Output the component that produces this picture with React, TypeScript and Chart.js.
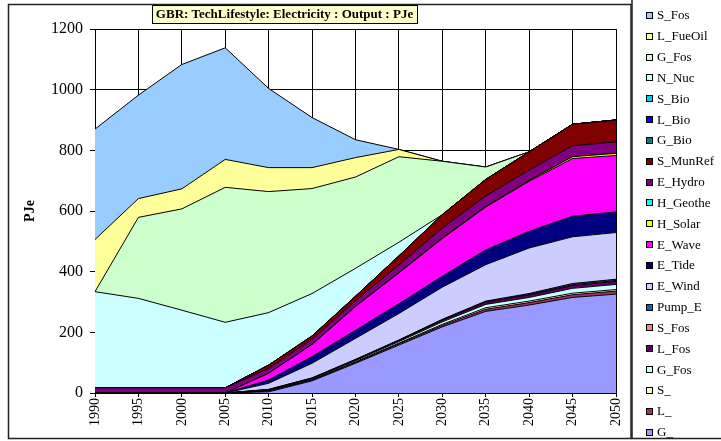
import React, { useEffect, useRef } from 'react';
import { Chart, registerables } from 'chart.js';

Chart.register(...registerables);

const years = ['1990', '1995', '2000', '2005', '2010', '2015', '2020', '2025', '2030', '2035', '2040', '2045', '2050'];
const yTicks = [0, 200, 400, 600, 800, 1000, 1200];

// bottom of stack first
const G_ = [0, 0, 0, 0, 4, 40, 98, 158, 218, 269, 290, 315, 326];
const L_ = [0, 0, 0, 0, 2, 2.5, 3, 4, 5, 7, 8, 9, 10];
const S_ = [0, 0, 0, 0, 1, 1.5, 2, 2.5, 3.5, 5, 5, 5, 5];
const G_Fos_lo = [0, 0, 0, 0, 2, 2.5, 3.5, 5, 8, 11, 12, 16, 17];
const L_Fos = [0, 0, 0, 0, 2, 2, 2.5, 3, 5, 7, 8, 9, 10];
const S_Fos_lo = [0, 0, 0, 0, 0.5, 0.5, 1, 1, 1.5, 2, 2, 3, 3];
const Pump_E = [0, 0, 0, 0, 0.5, 1, 1, 1.5, 2, 2, 3, 4, 4];
const E_Wind = [0, 0, 0, 0, 20, 48, 69, 87, 106, 120, 150, 154, 154];
const E_Tide = [0, 0, 0, 0, 11, 22, 27, 32, 36, 49, 55, 68, 68];
const E_Wave = [0, 0, 0, 0, 22, 40, 78, 102, 124, 141, 165, 190, 186];
const H_Solar = [0, 0, 0, 0, 0, 1, 1, 1, 2, 2, 3, 6, 7];
const H_Geothe = [0, 0, 0, 0, 0, 0, 0, 0, 0, 0, 0, 0, 0];
const E_Hydro = [17, 17, 17, 17, 16, 16, 18, 25, 33, 34, 34, 36, 38];
const S_MunRef = [0, 0, 0, 0, 11, 11, 15, 30, 44, 55, 60, 71, 72];
const G_Bio = [0, 0, 0, 0, 0, 0, 0, 0, 0, 0, 0, 0, 0];
const L_Bio = [0, 0, 0, 0, 0, 0, 0, 0, 0, 0, 0, 0, 0];
const S_Bio = [0, 0, 0, 0, 0, 0, 0, 0, 0, 0, 0, 0, 0];
const N_Nuc = [317, 295, 256, 216, 173, 140, 92, 45, 0, 0, 0, 0, 0];
const G_Fos_hi = [0, 267, 334, 445, 399, 346, 301, 282, 176, 41, 0, 0, 0];
const L_FueOil = [172, 62, 66, 92, 79, 69, 64, 24, 0, 0, 0, 0, 0];
const S_Fos_hi = [364, 341, 410, 368, 261, 165, 59, 0, 0, 0, 0, 0, 0];

const seriesLabels = ['G_', 'L_', 'S_', 'G_Fos', 'L_Fos', 'S_Fos', 'Pump_E', 'E_Wind', 'E_Tide', 'E_Wave', 'H_Solar', 'H_Geothe', 'E_Hydro', 'S_MunRef', 'G_Bio', 'L_Bio', 'S_Bio', 'N_Nuc', 'G_Fos', 'L_FueOil', 'S_Fos'];
const seriesValues = [G_, L_, S_, G_Fos_lo, L_Fos, S_Fos_lo, Pump_E, E_Wind, E_Tide, E_Wave, H_Solar, H_Geothe, E_Hydro, S_MunRef, G_Bio, L_Bio, S_Bio, N_Nuc, G_Fos_hi, L_FueOil, S_Fos_hi];
const seriesColors = ['#9999FF', '#993366', '#FFFFCC', '#CCFFFF', '#660066', '#FF8080', '#0066CC', '#CCCCFF', '#000080', '#FF00FF', '#FFFF00', '#00FFFF', '#800080', '#800000', '#008080', '#0000FF', '#00CCFF', '#CCFFFF', '#CCFFCC', '#FFFF99', '#99CCFF'];

const titleText = 'GBR: TechLifestyle: Electricity : Output : PJe';
const FONT = "'Liberation Serif', 'Times New Roman', serif";

const decorPlugin = {
  id: 'decor',
  beforeDraw(chart: any) {
    const ctx = chart.ctx;
    ctx.save();
    ctx.fillStyle = '#ffffff';
    ctx.fillRect(0, 0, chart.width, chart.height);
    ctx.restore();
  },
  afterDraw(chart: any) {
    const ctx = chart.ctx;
    ctx.save();
    // chart frame
    ctx.strokeStyle = '#222';
    ctx.lineWidth = 1.5;
    ctx.strokeRect(8.5, 4.5, 622.5, 434);
    // legend frame
    ctx.strokeRect(632, -5, 100, 443.5);
    // title box
    ctx.font = `bold 13px ${FONT}`;
    const tw = ctx.measureText(titleText).width;
    const cx = 284.5;
    const bw = Math.round(tw + 8);
    ctx.fillStyle = '#FFFFCC';
    ctx.fillRect(Math.round(cx - bw / 2) + 0.5, 5.5, bw, 18);
    ctx.strokeStyle = '#000';
    ctx.lineWidth = 1;
    ctx.strokeRect(Math.round(cx - bw / 2) + 0.5, 5.5, bw, 18);
    ctx.fillStyle = '#000';
    ctx.textAlign = 'center';
    ctx.textBaseline = 'middle';
    ctx.fillText(titleText, cx, 15);
    // legend
    const ds = chart.data.datasets;
    ctx.font = `13px ${FONT}`;
    ctx.textAlign = 'left';
    const n = ds.length;
    for (let i = 0; i < n; i++) {
      const d = ds[n - 1 - i];
      const y = 15 + i * 20.83;
      ctx.fillStyle = d.backgroundColor;
      ctx.fillRect(646.5, Math.round(y - 3) + 0.5, 6, 6);
      ctx.strokeStyle = '#000';
      ctx.lineWidth = 1;
      ctx.strokeRect(646.5, Math.round(y - 3) + 0.5, 6, 6);
      ctx.fillStyle = '#000';
      ctx.fillText(d.label, 657, y + 1);
    }
    ctx.restore();
  },
};

export default function App() {
  const ref = useRef<HTMLCanvasElement>(null);
  useEffect(() => {
    if (!ref.current) return;
    const datasets = seriesValues.map((vals, i) => ({
      label: seriesLabels[i],
      data: vals,
      backgroundColor: seriesColors[i],
      borderColor: '#000000',
      borderWidth: 1,
      pointRadius: 0,
      tension: 0,
      fill: i === 0 ? 'origin' : '-1',
    }));
    const chart = new Chart(ref.current, {
      type: 'line',
      data: { labels: years, datasets },
      options: {
        responsive: false,
        animation: false,
        devicePixelRatio: 1,
        layout: { padding: { left: 0, top: 29, right: 105, bottom: 8 } },
        plugins: { legend: { display: false }, title: { display: false }, tooltip: { enabled: false } },
        scales: {
          x: {
            type: 'category',
            offset: false,
            grid: { color: '#000', lineWidth: 1, tickLength: 4, offset: false },
            border: { color: '#000', width: 1 },
            ticks: { color: '#000', font: { family: FONT, size: 14 }, minRotation: 90, maxRotation: 90, padding: 1, autoSkip: false },
            afterFit: (s: any) => { s.height = 40; },
          },
          y: {
            stacked: true,
            min: 0,
            max: 1200,
            afterBuildTicks: (s: any) => { s.ticks = yTicks.map((v) => ({ value: v })); },
            grid: { color: '#000', lineWidth: 1, tickLength: 5 },
            border: { color: '#000', width: 1 },
            ticks: { color: '#000', font: { family: FONT, size: 16 }, padding: 7, callback: (v: any) => String(v) },
            title: { display: true, text: 'PJe', color: '#000', font: { family: FONT, size: 14, weight: 'bold' }, padding: { top: 22, bottom: 0 } },
            afterFit: (s: any) => { s.width = 95; },
          },
        },
      },
      plugins: [decorPlugin],
    } as any);
    return () => chart.destroy();
  }, []);
  return (
    <div style={{ position: 'absolute', left: 0, top: 0, width: 721, height: 441 }}>
      <canvas ref={ref} width={721} height={441} style={{ display: 'block' }} />
    </div>
  );
}
